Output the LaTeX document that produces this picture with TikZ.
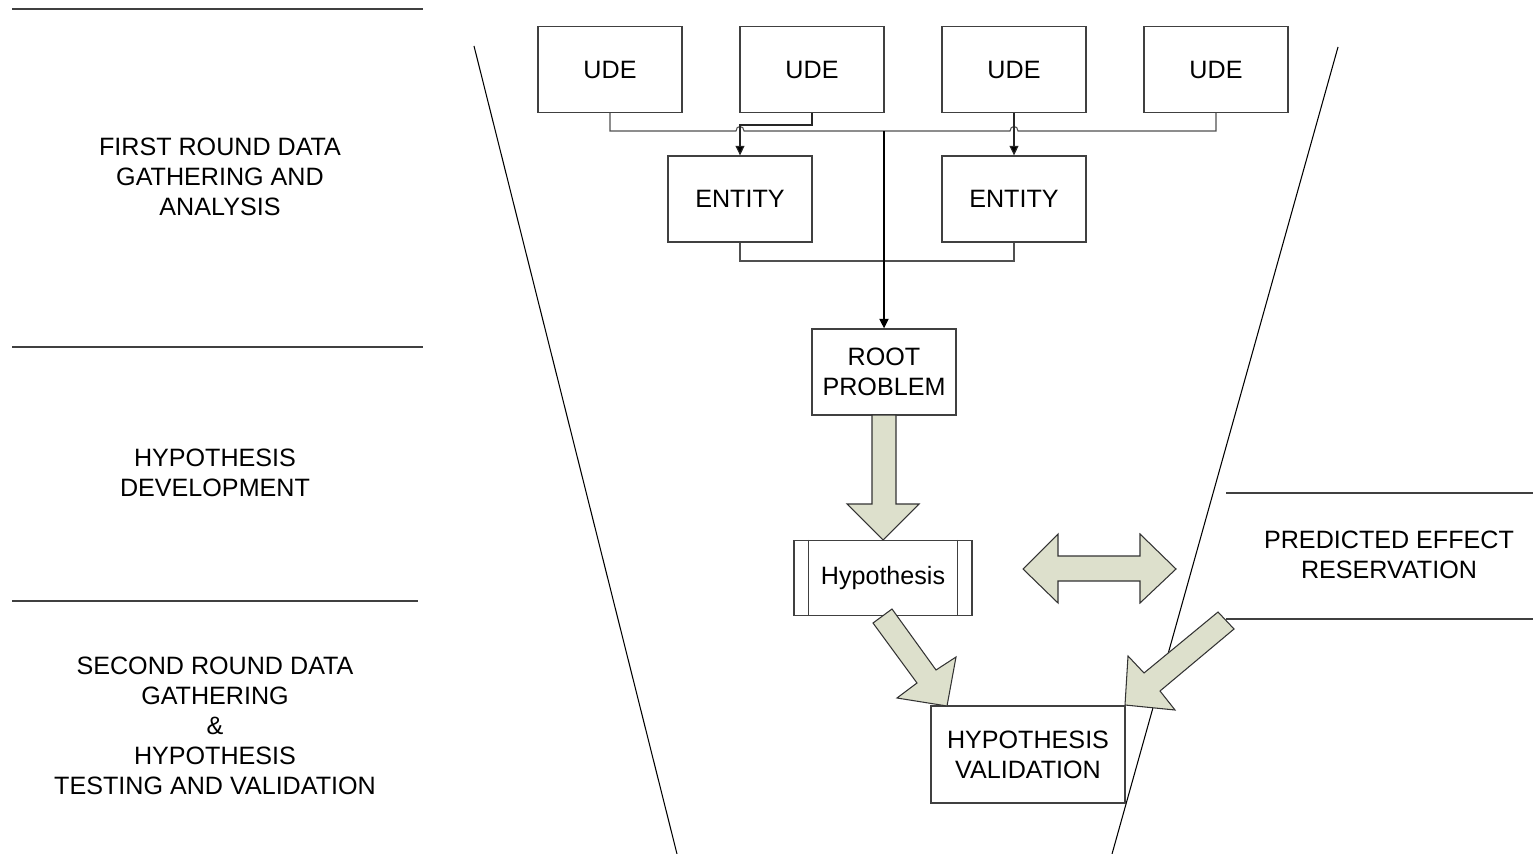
\documentclass[tikz,border=0pt]{standalone}
\usepackage{fontspec}
\setmainfont{Liberation Sans}
\usetikzlibrary{arrows.meta}
\definecolor{boxline}{RGB}{64,64,64}
\definecolor{connline}{RGB}{80,80,80}
\definecolor{blockfill}{RGB}{221,224,204}
\newcommand\diagfont{\fontsize{14.3}{17.1}\selectfont}
\tikzset{
  box/.style={draw=boxline, line width=0.75pt, fill=white, inner sep=0pt,
              align=center, font=\diagfont,
              minimum width=2.88cm, minimum height=1.72cm},
  label/.style={align=center, font=\diagfont, inner sep=0pt},
  conn/.style={draw=connline, line width=0.6pt},
  feedconn/.style={draw=black!85, line width=0.65pt},
  mainconn/.style={draw=black, line width=1.1pt},
  tip/.style={-{Triangle[length=0.19cm, width=0.18cm, fill=black]}},
  funnel/.style={draw=black, line width=0.6pt},
  rule/.style={draw=boxline, line width=0.8pt},
  blockarrow/.style={draw=black!80, line width=0.6pt, fill=blockfill, line join=miter}
}
\begin{document}
\begin{tikzpicture}[x=0.02cm, y=-0.02cm]
\useasboundingbox (0,0) rectangle (1533,854);

% funnel sides
\coordinate (fl1) at (474,46);  \coordinate (fl2) at (677,854);
\coordinate (fr1) at (1338,47); \coordinate (fr2) at (1112,854);
\draw[funnel] (fl1) -- (fl2);
\draw[funnel] (fr1) -- (fr2);

% stage separators on the left
\coordinate (s1a) at (12,9);   \coordinate (s1b) at (423,9);
\coordinate (s2a) at (12,347); \coordinate (s2b) at (423,347);
\coordinate (s3a) at (12,601); \coordinate (s3b) at (418,601);
\draw[rule] (s1a) -- (s1b);
\draw[rule] (s2a) -- (s2b);
\draw[rule] (s3a) -- (s3b);

% stage labels
\node[label] (st1) at (220,176.5) {FIRST ROUND DATA\\GATHERING AND\\ANALYSIS};
\node[label] (st2) at (215,472.5) {HYPOTHESIS\\DEVELOPMENT};
\node[label] (st3) at (215,725.5) {SECOND ROUND DATA\\GATHERING\\\&\\HYPOTHESIS\\TESTING AND VALIDATION};

% predicted effect band on the right
\coordinate (p1a) at (1226,493); \coordinate (p1b) at (1533,493);
\coordinate (p2a) at (1226,619); \coordinate (p2b) at (1533,619);
\draw[rule] (p1a) -- (p1b);
\draw[rule] (p2a) -- (p2b);
\node[label] (pred) at (1389,555) {PREDICTED EFFECT\\RESERVATION};

% undesirable effects
\node[box] (u1) at (610,69.5)  {UDE};
\node[box] (u2) at (812,69.5)  {UDE};
\node[box] (u3) at (1014,69.5) {UDE};
\node[box] (u4) at (1216,69.5) {UDE};

% entities
\node[box] (e1) at (740,199)  {ENTITY};
\node[box] (e2) at (1014,199) {ENTITY};

% root problem
\node[box] (root) at (884,372) {ROOT\\PROBLEM};

% hypothesis (predefined-process box)
\node[box, minimum width=3.56cm, minimum height=1.5cm] (hyp) at (883,578) {Hypothesis};
\draw[draw=boxline, line width=0.75pt] ([xshift=0.3cm]hyp.north west) -- ([xshift=0.3cm]hyp.south west);
\draw[draw=boxline, line width=0.75pt] ([xshift=-0.3cm]hyp.north east) -- ([xshift=-0.3cm]hyp.south east);

% hypothesis validation
\node[box, minimum width=3.88cm, minimum height=1.94cm] (val) at (1028,754.5) {HYPOTHESIS\\VALIDATION};

% connectors between UDEs, entities and the root problem
\coordinate (h1a) at (736,131); \coordinate (h1b) at (744,131);
\coordinate (h2a) at (1010,131); \coordinate (h2b) at (1018,131);
\coordinate (jn) at (884,131);
\coordinate (k2) at (812,125);
\coordinate (eb) at (884,261);

\draw[conn] (u1.south) |- (h1a)
  .. controls (736,125) and (744,125) .. (h1b)
  -- (h2a)
  .. controls (1010,125) and (1018,125) .. (h2b)
  -| (u4.south);
\draw[feedconn, tip] (u2.south) -- (k2) -| (e1.north);
\draw[feedconn, tip] (u3.south) -- (e2.north);
\draw[conn] (e1.south) |- (eb) -| (e2.south);
\draw[mainconn, tip] (jn) -- (root.north);

% block arrows
\draw[blockarrow] (872,415) -- (896,415) -- (896,504) -- (919,504) -- (883,540)
  -- (847,504) -- (872,504) -- cycle;
\draw[blockarrow] (1023,569) -- (1058,534) -- (1058,556) -- (1140,556) -- (1140,534)
  -- (1176,569) -- (1140,603) -- (1140,581) -- (1058,581) -- (1058,603) -- cycle;
\draw[blockarrow] (873,623) -- (892,609) -- (936,670) -- (956,657) -- (947,706)
  -- (897,698) -- (917,683) -- cycle;
\draw[blockarrow] (1218,612) -- (1234,629) -- (1160,691) -- (1175,710) -- (1125,705)
  -- (1128,656) -- (1144,673) -- cycle;
\end{tikzpicture}
\end{document}
